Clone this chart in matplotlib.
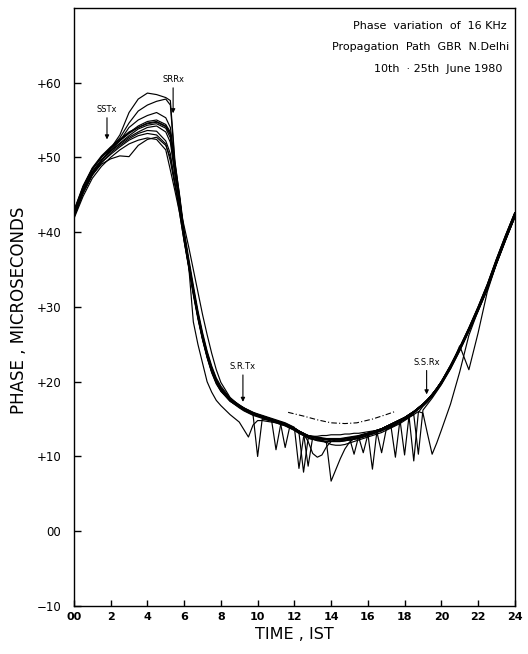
import numpy as np
import matplotlib
matplotlib.use("Agg")
import matplotlib.pyplot as plt

# ---- time grid (hours, IST) ----
hours = [0, 0.5, 1, 1.5, 2, 2.5, 3, 3.5, 4, 4.5, 5,
         5.25, 5.5, 5.75, 6, 6.25, 6.5, 6.75, 7, 7.25, 7.5, 7.75, 8, 8.5, 9,
         9.25, 9.5, 9.75, 10, 10.25, 10.5, 10.75, 11, 11.25, 11.5, 11.75, 12,
         12.25, 12.5, 12.75, 13, 13.25, 13.5, 13.75, 14,
         14.25, 14.5, 14.75, 15, 15.25, 15.5, 15.75, 16, 16.25, 16.5, 16.75, 17,
         17.25, 17.5, 17.75, 18, 18.25, 18.5, 18.75, 19, 19.25, 19.5, 19.75, 20,
         20.5, 21, 21.5, 22, 22.5, 23, 23.5, 24]

# ---- daily phase curves (microseconds) ----
day_a = [42.0, 45.3, 47.8, 49.5, 51.2, 53.0, 56.0, 57.8, 58.6, 58.4, 58.0,
         57.6, 49.5, 44.8, 39.8, 36.1, 32.5, 29.2, 26.3, 23.9, 21.9, 20.3, 19.2, 17.7, 16.9,
         16.5, 16.2, 15.9, 15.7, 15.5, 15.3, 15.1, 14.9, 14.7, 14.5, 14.2, 13.9, 8.4, 12.6, 12.8, 12.7, 12.6, 12.5, 12.4, 12.4,
         12.4, 12.4, 12.5, 12.6, 12.7, 12.8, 13.0, 13.1, 8.3, 13.5, 13.7, 14.0, 14.3, 14.6, 14.9, 15.2, 15.6, 16.0, 16.5, 17.0, 17.6, 18.3, 19.1, 20.0,
         22.2, 24.6, 27.2, 30.0, 33.0, 36.4, 39.6, 42.6]

day_b = [42.8, 46.0, 48.4, 50.0, 51.3, 52.6, 54.6, 56.2, 57.0, 57.5, 57.8,
         57.0, 49.0, 44.6, 39.7, 36.0, 32.4, 29.1, 26.2, 23.8, 21.8, 20.2, 19.1, 17.6, 16.7,
         16.2, 15.9, 15.6, 10.0, 15.0, 14.9, 14.8, 14.6, 14.4, 14.2, 13.9, 13.6, 13.2, 12.9, 12.6, 12.4, 12.3, 12.2, 11.8, 6.7,
         8.2, 9.7, 11.0, 11.9, 12.4, 12.6, 12.8, 13.0, 13.2, 13.4, 13.7, 14.0, 14.3, 14.6, 14.9, 15.2, 15.6, 16.0, 16.5, 17.0, 17.6, 18.3, 19.1, 20.0,
         22.1, 24.5, 27.1, 29.8, 32.8, 36.2, 39.4, 42.5]

day_c = [42.2, 45.5, 48.0, 49.6, 51.0, 52.2, 54.0, 55.0, 55.6, 56.0, 55.3,
         54.0, 49.2, 45.0, 40.2, 36.5, 32.9, 29.5, 26.6, 24.1, 22.1, 20.5, 19.4, 17.8, 16.9,
         16.5, 16.1, 15.8, 15.6, 15.4, 15.2, 15.0, 10.9, 14.2, 14.4, 14.1, 13.8, 13.4, 13.1, 12.8, 12.6, 12.5, 12.4, 12.3, 12.3,
         12.3, 12.3, 12.4, 12.5, 12.6, 12.7, 12.9, 13.1, 13.3, 13.5, 13.7, 14.0, 14.2, 9.9, 14.9, 15.2, 15.6, 16.0, 16.5, 17.0, 17.6, 18.3, 19.1, 20.0,
         21.8, 24.2, 26.8, 29.5, 32.4, 35.8, 39.0, 42.0]

day_d = [42.6, 46.0, 48.4, 50.0, 51.2, 52.2, 53.2, 54.0, 54.6, 54.8, 54.2,
         53.2, 48.4, 44.4, 39.4, 35.6, 32.0, 28.7, 25.8, 23.4, 21.4, 19.9, 18.8, 17.4, 16.6,
         16.2, 15.9, 15.6, 15.4, 15.2, 15.0, 14.8, 14.6, 14.4, 14.2, 13.9, 13.6, 13.2, 7.9, 12.4, 12.3, 12.2, 12.1, 12.0, 12.0,
         12.0, 12.0, 12.1, 12.2, 12.3, 12.4, 12.6, 12.8, 13.0, 13.2, 13.4, 13.7, 14.0, 14.3, 14.6, 14.9, 15.2, 9.4, 15.9, 16.7, 17.3, 18.0, 18.8, 19.7,
         21.8, 24.2, 26.8, 29.5, 32.4, 35.8, 39.0, 42.1]

day_e = [42.4, 45.7, 48.1, 49.7, 50.9, 51.9, 52.9, 53.8, 54.3, 54.5, 53.9,
         52.6, 47.8, 44.0, 39.2, 35.5, 31.9, 28.6, 25.7, 23.3, 21.3, 19.8, 18.8, 17.4, 16.6,
         16.2, 15.9, 15.6, 15.4, 15.2, 15.0, 14.8, 14.6, 14.4, 11.2, 14.0, 13.7, 13.3, 13.0, 12.7, 12.5, 12.4, 12.3, 12.2, 12.1,
         12.1, 12.1, 12.2, 12.3, 12.4, 12.5, 12.7, 12.9, 13.1, 13.3, 13.5, 13.8, 14.1, 14.4, 14.7, 15.0, 15.3, 15.6, 16.0, 15.8, 13.0, 10.3, 11.8, 13.5,
         17.0, 21.3, 26.2, 29.5, 32.4, 35.8, 39.0, 42.0]

day_f = [42.3, 45.6, 48.0, 49.6, 50.8, 51.8, 52.7, 53.4, 54.0, 54.2, 53.4,
         52.0, 47.6, 43.8, 39.3, 35.7, 32.1, 28.8, 25.9, 23.5, 21.5, 20.0, 18.9, 17.6, 16.8,
         16.4, 16.1, 15.8, 15.6, 15.4, 15.2, 15.0, 14.8, 14.6, 14.4, 14.1, 13.8, 13.4, 13.1, 8.7, 12.6, 12.5, 12.4, 12.3, 12.3,
         12.3, 12.3, 12.4, 12.5, 10.3, 12.7, 12.9, 13.1, 13.3, 13.5, 13.7, 14.0, 14.3, 14.6, 14.9, 15.2, 15.6, 16.0, 16.5, 17.0, 17.6, 18.2, 18.9, 19.7,
         21.8, 24.8, 21.6, 26.5, 32.0, 35.8, 39.0, 42.0]

day_g = [42.7, 46.1, 48.5, 50.1, 51.3, 52.3, 53.3, 54.2, 54.8, 55.0, 54.4,
         53.4, 48.6, 44.5, 39.6, 35.9, 32.3, 29.0, 26.1, 23.7, 21.7, 20.1, 19.0, 17.6, 16.8,
         16.4, 16.1, 15.8, 15.6, 15.4, 15.2, 15.0, 14.8, 14.6, 14.4, 14.1, 13.8, 13.4, 13.0, 12.0, 10.4, 9.9, 10.2, 11.3, 12.0,
         12.2, 12.2, 12.3, 12.4, 12.5, 12.6, 10.5, 12.9, 13.1, 13.3, 13.5, 13.8, 14.1, 14.4, 14.7, 15.0, 15.4, 15.8, 16.3, 16.8, 17.4, 18.1, 18.9, 19.8,
         22.0, 24.4, 27.0, 29.8, 32.7, 36.1, 39.3, 42.4]

day_h = [42.0, 45.2, 47.6, 49.3, 50.6, 51.6, 52.5, 53.2, 53.6, 53.5, 52.2,
         50.5, 46.5, 42.6, 38.8, 35.4, 28.0, 25.0, 22.5, 20.0, 18.6, 17.5, 16.8, 15.6, 14.6,
         13.6, 12.6, 14.2, 14.8, 14.8, 14.7, 14.6, 14.5, 14.3, 14.1, 13.8, 13.5, 13.1, 12.8, 12.5, 12.3, 12.2, 12.1, 12.0, 12.0,
         12.0, 12.0, 12.1, 12.2, 12.3, 12.4, 12.6, 12.8, 13.0, 13.2, 10.5, 13.6, 13.9, 14.2, 14.6, 15.0, 15.4, 15.8, 16.3, 16.8, 17.4, 18.1, 18.9, 19.8,
         21.9, 24.3, 26.9, 29.6, 32.5, 35.9, 39.1, 42.2]

day_i = [42.2, 45.4, 47.7, 49.1, 49.8, 50.2, 50.1, 51.6, 52.4, 52.7, 51.6,
         50.0, 46.6, 43.2, 39.0, 35.4, 31.8, 28.6, 25.8, 23.4, 21.4, 19.9, 18.8, 17.5, 16.7,
         16.3, 16.0, 15.7, 15.5, 15.3, 15.1, 14.9, 14.7, 14.5, 14.3, 14.0, 13.7, 13.3, 13.0, 12.8, 12.6, 12.5, 12.4, 12.3, 12.3,
         12.3, 12.3, 12.4, 12.5, 12.6, 12.7, 12.9, 13.1, 13.3, 13.5, 13.7, 14.0, 14.3, 14.6, 14.9, 15.2, 15.6, 16.0, 16.5, 17.0, 17.6, 18.3, 19.1, 20.0,
         22.1, 24.5, 27.1, 29.9, 32.9, 36.3, 39.5, 42.6]

day_j = [41.8, 44.8, 47.2, 48.8, 50.0, 51.0, 51.8, 52.3, 52.6, 52.4, 51.0,
         48.3, 45.5, 42.6, 38.8, 35.2, 31.6, 28.4, 25.6, 23.2, 21.2, 19.7, 18.7, 17.4, 16.5,
         16.1, 15.8, 15.5, 15.3, 15.1, 14.9, 14.7, 14.5, 14.3, 14.1, 13.8, 13.5, 13.1, 12.8, 12.5, 12.3, 12.1, 12.0, 11.9, 11.6,
         11.5, 11.5, 11.6, 11.8, 12.0, 12.2, 12.4, 12.6, 12.8, 13.0, 13.2, 13.5, 13.8, 14.1, 14.4, 14.8, 15.2, 15.6, 10.3, 16.2, 17.0, 17.8, 18.7, 19.6,
         21.7, 24.1, 26.7, 29.4, 32.3, 35.7, 38.9, 42.0]

day_k = [42.1, 45.3, 47.7, 49.3, 50.4, 51.4, 52.3, 52.9, 53.2, 53.0, 51.8,
         49.5, 46.2, 43.5, 40.8, 38.0, 35.0, 32.0, 29.0, 26.3, 23.8, 21.6, 19.9, 17.9, 16.8,
         16.5, 16.2, 15.9, 15.6, 15.4, 15.2, 15.0, 14.8, 14.6, 14.4, 14.1, 13.8, 13.4, 13.1, 12.8, 12.7, 12.7, 12.8, 12.8, 12.9,
         12.9, 12.9, 13.0, 13.0, 13.1, 13.1, 13.2, 13.3, 13.4, 13.5, 13.7, 14.0, 14.3, 14.6, 14.9, 10.2, 15.6, 16.0, 16.5, 17.0, 17.6, 18.3, 19.1, 20.0,
         22.2, 24.6, 27.2, 30.0, 33.0, 36.4, 39.6, 42.6]

day_l = [42.9, 46.2, 48.6, 50.2, 51.4, 52.4, 53.4, 54.0, 54.5, 54.7, 54.1,
         53.0, 48.3, 44.4, 39.6, 35.9, 32.3, 29.0, 26.1, 23.7, 21.7, 20.1, 19.0, 17.6, 16.8,
         16.4, 16.1, 15.8, 15.6, 15.4, 15.2, 15.0, 14.8, 14.6, 14.4, 14.1, 13.8, 13.4, 13.1, 12.8, 12.6, 12.5, 12.4, 12.3, 12.3,
         12.3, 12.3, 12.4, 12.5, 12.6, 12.7, 12.9, 13.1, 13.3, 13.5, 13.7, 14.0, 14.3, 14.6, 14.9, 15.2, 15.6, 16.0, 16.5, 17.0, 17.6, 18.3, 19.1, 20.0,
         22.0, 24.4, 27.0, 29.8, 32.8, 36.2, 39.4, 42.5]

# partial dash-dot record
dashed_hours = [11.66, 12.5, 13.25, 14.0, 14.75, 15.4, 16.25, 17.0, 17.47]
dashed_phase = [15.9, 15.4, 14.9, 14.5, 14.4, 14.5, 15.0, 15.6, 16.0]

# ---- axis ticks ----
x_ticks = [0, 2, 4, 6, 8, 10, 12, 14, 16, 18, 20, 22, 24]
x_labels = ["00", "2", "4", "6", "8", "10", "12", "14", "16", "18", "20", "22", "24"]
y_ticks = [-10, 0, 10, 20, 30, 40, 50, 60]
y_labels = ["\u221210", "00", "+10", "+20", "+30", "+40", "+50", "+60"]

# ---- event markers ----
event_names = ["SSTx", "SRRx", "S.R.Tx", "S.S.Rx"]
event_hours = [1.8, 5.4, 9.2, 19.2]
event_text_y = [56.4, 60.4, 22.0, 22.6]
event_tip_y = [52.4, 55.9, 17.3, 18.3]

plt.rcParams['font.family'] = ['DejaVu Sans']
fig = plt.figure(figsize=(5.28, 6.54), dpi=100)
ax = fig.add_axes([0.140, 0.0734, 0.835, 0.9146])

days = [day_a, day_b, day_c, day_d, day_e, day_f, day_g, day_h, day_i, day_j, day_k, day_l]
for d in days:
    ax.plot(hours, d, color='black', lw=0.85, solid_joinstyle='round')
ax.plot(dashed_hours, dashed_phase, color='black', lw=0.8, linestyle=(0, (5, 2, 1, 2)))

for name, hx, ty, tip in zip(event_names, event_hours, event_text_y, event_tip_y):
    ax.annotate("", xy=(hx, tip), xytext=(hx, ty - 1.1),
                arrowprops=dict(arrowstyle='-|>', lw=0.8, color='black', mutation_scale=6,
                                shrinkA=0, shrinkB=0))
    ax.text(hx, ty, name, fontsize=6, ha='center', va='center')

ax.set_xlim(0, 24)
ax.set_ylim(-10, 70)
ax.set_xticks(x_ticks)
ax.set_xticklabels(x_labels, fontsize=8, fontweight='bold')
ax.set_yticks(y_ticks)
ax.set_yticklabels(y_labels, fontsize=8.5)
ax.tick_params(axis='x', direction='in', length=4, width=1, pad=4)
ax.tick_params(axis='y', direction='in', length=5, width=1, pad=9)
for s in ax.spines.values():
    s.set_linewidth(1.0)

ax.set_xlabel("TIME , IST", fontsize=11.5, labelpad=4)
fig.text(0.036, 0.525, "PHASE , MICROSECONDS", rotation=90, fontsize=12,
         ha='center', va='center')

fig.text(0.96, 0.960, "Phase  variation  of  16 KHz", fontsize=8, ha='right', va='center')
fig.text(0.965, 0.928, "Propagation  Path  GBR  N.Delhi", fontsize=8, ha='right', va='center')
fig.text(0.951, 0.895, "10th  \u00b7 25th  June 1980", fontsize=8, ha='right', va='center')

fig.savefig("out.png", dpi=100)
